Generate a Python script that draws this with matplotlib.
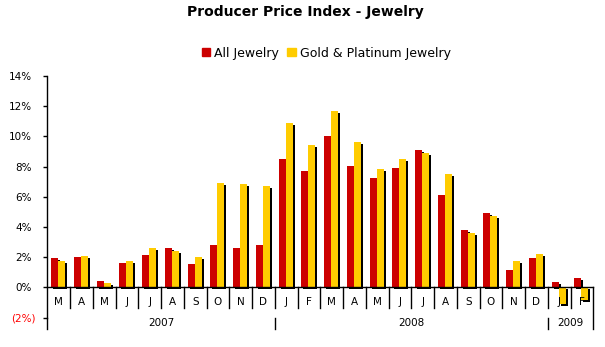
import matplotlib
matplotlib.use('Agg')
import matplotlib.pyplot as plt
import matplotlib.patheffects as pe
import matplotlib.transforms as mtransforms
from matplotlib.patches import Patch
import numpy as np

# monthly % change, Mar 2007 - Feb 2009
months = ['M', 'A', 'M', 'J', 'J', 'A', 'S', 'O', 'N', 'D',
          'J', 'F', 'M', 'A', 'M', 'J', 'J', 'A', 'S', 'O', 'N', 'D',
          'J', 'F']
years = ['2007', '2008', '2009']
year_months = [10, 12, 2]
all_jewelry = [1.96, 2.03, 0.40, 1.63, 2.16, 2.62, 1.57, 2.82, 2.62, 2.82,
               8.51, 7.72, 10.03, 8.05, 7.25, 7.91, 9.10, 6.13, 3.81, 4.94, 1.17, 1.96,
               0.35, 0.61]
gold_platinum = [1.76, 2.09, 0.31, 1.76, 2.62, 2.42, 2.03, 6.92, 6.86, 6.72,
                 10.89, 9.44, 11.68, 9.63, 7.85, 8.51, 8.91, 7.52, 3.62, 4.74, 1.76, 2.23,
                 -1.06, -0.80]
yticks = [-2, 0, 2, 4, 6, 8, 10, 12, 14]

red = '#CC0000'
gold = '#FFCC00'

fig = plt.figure(figsize=(6.05, 3.47), dpi=100, facecolor='white')
ax = fig.add_axes([0.0782, 0.0844, 0.9025, 0.6966])

x = np.arange(len(months))
shadow = [pe.withSimplePatchShadow(offset=(1.44, -1.44), shadow_rgbFace='black', alpha=1.0)]
ax.bar(x + 0.32, all_jewelry, width=0.31, color=red, linewidth=0, path_effects=shadow)
ax.bar(x + 0.63, gold_platinum, width=0.31, color=gold, linewidth=0, path_effects=shadow)

ax.set_xlim(0, len(months))
ax.set_ylim(-2, 14)

for s in ['top', 'right']:
    ax.spines[s].set_visible(False)
ax.spines['bottom'].set_position(('data', 0))
ax.spines['left'].set_linewidth(1)
ax.spines['bottom'].set_linewidth(1)
ax.tick_params(axis='x', length=0, labelbottom=False)
ax.tick_params(axis='y', length=3, width=1, pad=8, labelsize=7.5)
ax.set_yticks(yticks)
ax.set_yticklabels(['(%d%%)' % -v if v < 0 else '%d%%' % v for v in yticks])
nudge = mtransforms.ScaledTranslation(4 / 100, 0, fig.dpi_scale_trans)
for lbl, v in zip(ax.get_yticklabels(), yticks):
    if v < 0:
        lbl.set_color('red')
        lbl.set_transform(lbl.get_transform() + nudge)

# month labels and separators
for i, m in enumerate(months):
    ax.text(i + 0.5, -0.97, m, ha='center', va='center', fontsize=7.5)
    if i > 0:
        ax.plot([i, i], [0, -1.37], color='black', lw=1, clip_on=False)

# year labels and separators
start = 0
for yr, n in zip(years, year_months):
    ax.text(start + n / 2, -2.36, yr, ha='center', va='center', fontsize=7.5)
    ax.plot([start, start], [-2, -2.76], color='black', lw=1, clip_on=False)
    start += n
ax.plot([start, start], [0, -2.76], color='black', lw=1, clip_on=False)

fig.suptitle('Producer Price Index - Jewelry', x=0.505, y=0.964,
             fontsize=10, fontweight='bold', va='center')
handles = [Patch(color=red, label='All Jewelry'),
           Patch(color=gold, label='Gold & Platinum Jewelry')]
fig.legend(handles=handles, loc='center', bbox_to_anchor=(0.539, 0.847), ncol=2,
           frameon=False, fontsize=9, handlelength=0.65, handleheight=0.65,
           handletextpad=0.32, columnspacing=0.7)

fig.savefig('out.png', dpi=100, facecolor='white')
